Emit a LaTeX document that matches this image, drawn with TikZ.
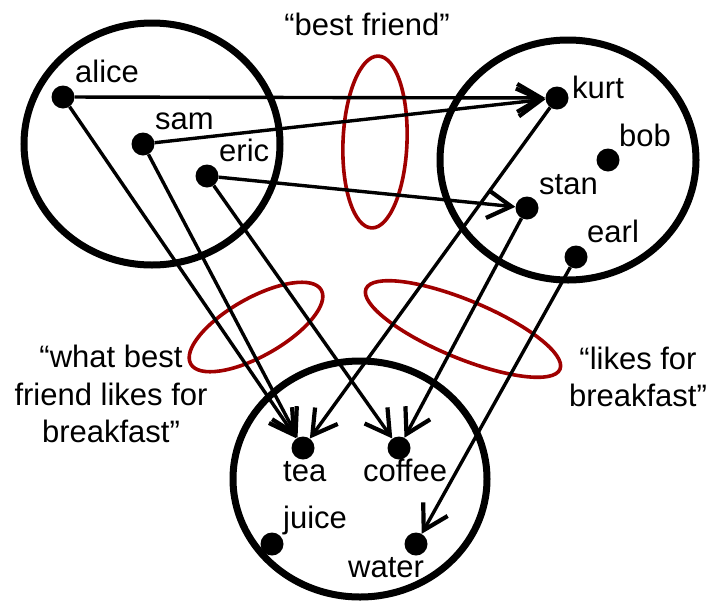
\documentclass[tikz,border=0pt]{standalone}
\usepackage{fontspec}
\setmainfont{Liberation Sans}
\usetikzlibrary{arrows.meta}
\definecolor{ringred}{RGB}{160,0,0}
\tikzset{
  setring/.style={draw=black, line width=7pt},
  dot/.style={circle, fill=black, inner sep=0pt, minimum size=23pt},
  lbl/.style={anchor=base west, inner sep=0pt, font=\fontsize{31}{37.5}\selectfont},
  captext/.style={inner sep=0pt, align=center, font=\fontsize{31}{37.5}\selectfont},
  rel/.style={line width=3.4pt, -{Straight Barb[length=24pt,width=28pt,line width=4.2pt]}},
  redring/.style={draw=ringred, line width=3.6pt}
}
\begin{document}
\begin{tikzpicture}[x=1pt,y=-1pt]
\useasboundingbox (0,0) rectangle (710,603);
% sets
\draw[setring] (152,144) ellipse [x radius=128, y radius=121];
\draw[setring] (568,160) ellipse [x radius=128, y radius=120];
\draw[setring] (360,479) ellipse [x radius=127, y radius=118];
% relation rings
\draw[redring, rotate around={-2.3:(375,142)}] (375,142) ellipse [x radius=32, y radius=86];
\draw[redring, rotate around={29.5:(256,327)}] (256,327) ellipse [x radius=75, y radius=29];
\draw[redring, rotate around={-22.5:(463,329)}] (463,329) ellipse [x radius=105, y radius=29];
% elements
\node[dot] (alice) at (63,97) {};
\node[dot] (sam) at (143,144) {};
\node[dot] (eric) at (207,176) {};
\node[dot] (kurt) at (557,98) {};
\node[dot] (bob) at (608,160) {};
\node[dot] (stan) at (527,208) {};
\node[dot] (earl) at (576,257) {};
\node[dot] (tea) at (303,448) {};
\node[dot] (coffee) at (399,448) {};
\node[dot] (juice) at (272,544) {};
\node[dot] (water) at (416,544) {};
% labels
\node[lbl] (lalice) at (75,82) {alice};
\node[lbl] (lsam) at (155,129) {sam};
\node[lbl] (leric) at (219,161) {eric};
\node[lbl] (lkurt) at (572,98) {kurt};
\node[lbl] (lbob) at (619,146) {bob};
\node[lbl] (lstan) at (539,194) {stan};
\node[lbl] (learl) at (587,242) {earl};
\node[lbl] (ltea) at (283,481) {tea};
\node[lbl] (lcoffee) at (363,481) {coffee};
\node[lbl] (ljuice) at (283,528) {juice};
\node[lbl] (lwater) at (348,577) {water};
% captions
\node[captext, anchor=base] (cbest) at (367,35) {“best friend”};
\node[captext] (cwhat) at (111,394) {“what best\\friend likes for\\breakfast”};
\node[captext] (clikes) at (638,377) {“likes for\\breakfast”};
% relations
\draw[rel] (alice) -- (kurt);
\draw[rel] (sam) -- (kurt);
\draw[rel] (eric) -- (stan);
\draw[rel] (alice) -- (tea);
\draw[rel] (sam) -- (tea);
\draw[rel] (eric) -- (coffee);
\draw[rel] (kurt) -- (tea);
\draw[rel] (stan) -- (coffee);
\draw[rel] (earl) -- (water);
\end{tikzpicture}
\end{document}
